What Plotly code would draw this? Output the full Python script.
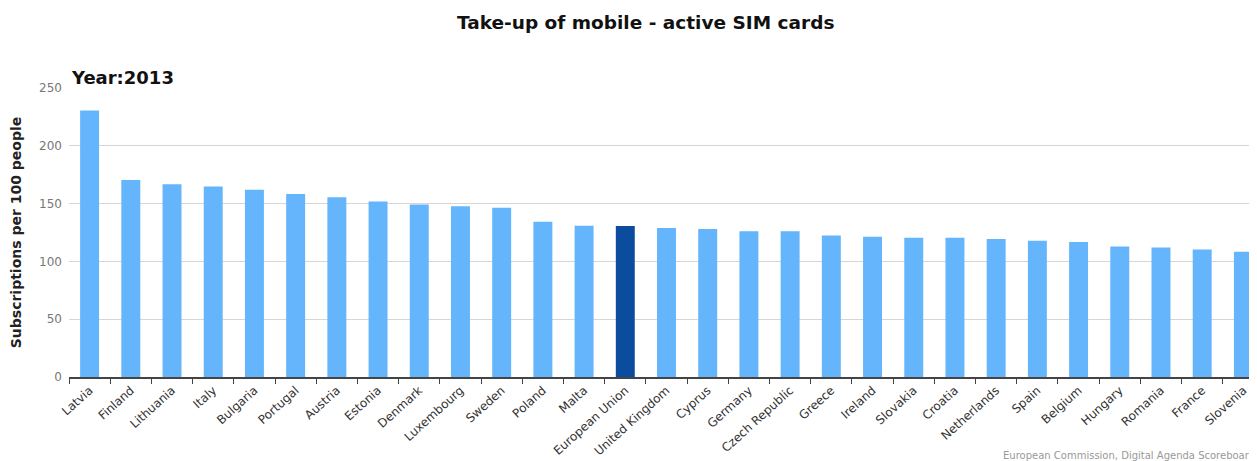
import plotly.graph_objects as go

countries = ["Latvia", "Finland", "Lithuania", "Italy", "Bulgaria", "Portugal", "Austria",
             "Estonia", "Denmark", "Luxembourg", "Sweden", "Poland", "Malta", "European Union",
             "United Kingdom", "Cyprus", "Germany", "Czech Republic", "Greece", "Ireland",
             "Slovakia", "Croatia", "Netherlands", "Spain", "Belgium", "Hungary", "Romania",
             "France", "Slovenia"]
values = [230.5, 170.5, 166.8, 164.7, 162.0, 158.4, 155.5, 151.8, 149.3, 147.6, 146.5,
          134.4, 130.9, 130.7, 128.9, 128.0, 126.0, 126.0, 122.5, 121.3, 120.4, 120.4,
          119.3, 117.8, 116.7, 112.9, 112.1, 110.4, 108.4]
highlight = "European Union"

LIGHT = "#65b5fc"
DARK = "#0c4c9f"
colors = [DARK if c == highlight else LIGHT for c in countries]

fig = go.Figure(go.Bar(x=countries, y=values, marker=dict(color=colors, line=dict(width=0)),
                       width=0.46))

# page body has an 8px margin: figure is offset by (8, 8) in the window
fig.update_layout(
    width=1249, height=453,
    margin=dict(l=61, r=0, t=80, b=84),
    paper_bgcolor="white", plot_bgcolor="white",
    font=dict(family="DejaVu Sans", color="#333333"),
    showlegend=False,
)
fig.update_xaxes(
    range=[-0.5, 28.33], automargin=False,
    tickangle=-42, tickfont=dict(size=12, color="#333333"),
    ticks="outside", ticklen=5, tickcolor="#444444", tickson="boundaries",
    showline=True, linecolor="#444444", linewidth=1.5,
    showgrid=False, fixedrange=True,
)
fig.update_yaxes(
    range=[0, 250], tick0=0, dtick=50, automargin=False,
    tickfont=dict(size=12, color="#777777"), ticklabelstandoff=6,
    showgrid=True, gridcolor="#d6d6d6", gridwidth=1,
    zeroline=False, showline=False,
    title=dict(text="<b>Subscriptions per 100 people</b>", font=dict(size=14, color="#222222"), standoff=18),
)

fig.add_annotation(text="<b>Take-up of mobile - active SIM cards</b>", xref="paper", yref="paper",
                   x=(645 - 69) / 1188, y=1 + (88 - 22) / 289, xanchor="center", yanchor="middle",
                   showarrow=False, font=dict(size=18.5, color="#111111"))
fig.add_annotation(text="<b>Year:2013</b>", xref="paper", yref="paper",
                   x=0, y=1 + (88 - 77) / 289, xanchor="left", yanchor="middle",
                   showarrow=False, font=dict(size=18, color="#111111"))
fig.add_annotation(text="European Commission, Digital Agenda Scoreboard", xref="paper", yref="paper",
                   x=(1001 - 69) / 1188, y=-(455 - 377) / 289, xanchor="left", yanchor="middle",
                   showarrow=False, font=dict(size=10, color="#999999"))

fig.write_html("out.html")
